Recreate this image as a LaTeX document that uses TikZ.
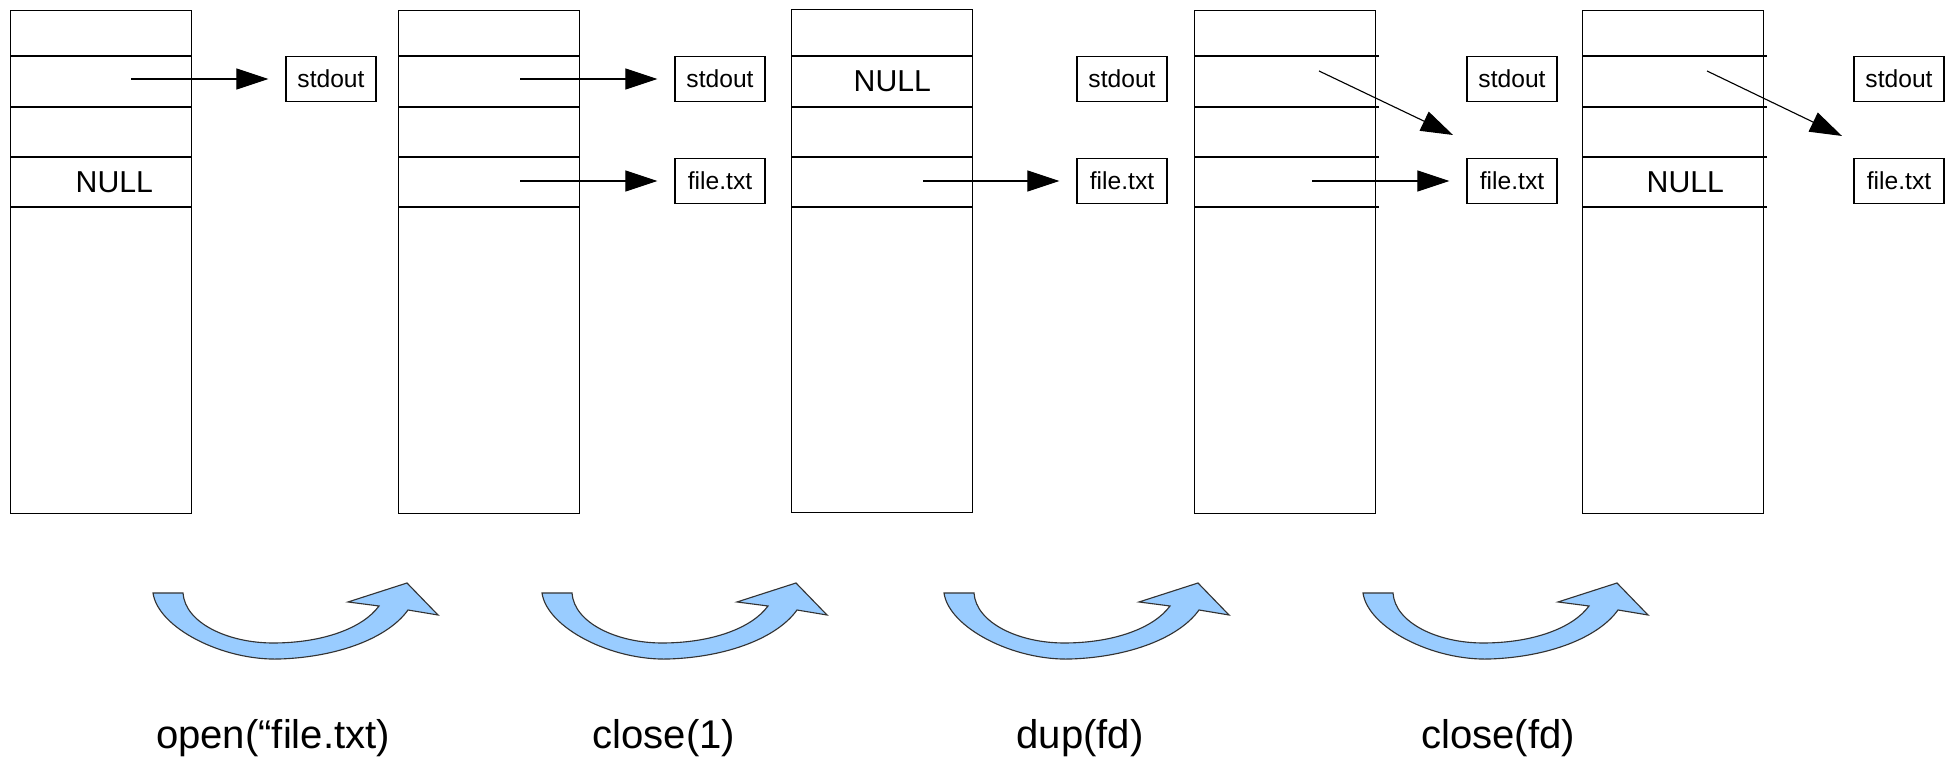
\documentclass[tikz,border=0pt]{standalone}
\usepackage{fontspec}
\setmainfont{Liberation Sans}
\usetikzlibrary{arrows.meta}

\definecolor{arrowblue}{HTML}{99CCFF}

\tikzset{
  fdtable/.style={draw, line width=0.32pt, minimum width=1.81cm, minimum height=5.03cm, inner sep=0pt, anchor=north west},
  filebox/.style={draw, line width=0.32pt, minimum width=0.9cm, minimum height=0.445cm, inner sep=0pt, font=\fontsize{7}{8}\selectfont},
  nulltext/.style={inner sep=0pt, anchor=west, font=\fontsize{8.6}{10}\selectfont},
  ptr/.style={-{Triangle[length=0.32cm,width=0.21cm]}, line width=0.32pt, shorten >=0.17cm},
  syscall/.style={anchor=base, font=\fontsize{11.4}{13}\selectfont},
  turn/.style={draw=black!80, fill=arrowblue, line width=0.32pt}
}

\begin{document}
\begin{tikzpicture}[x=0.01cm, y=-0.01cm]
	\useasboundingbox (0,0) rectangle (1957,765);

	% descriptor tables
	\node[fdtable] (t1) at (10,10) {};
	\node[fdtable] (t2) at (398,10) {};
	\node[fdtable] (t3) at (791,9) {};
	\node[fdtable] (t4) at (1194,10) {};
	\node[fdtable] (t5) at (1582,10) {};
	\foreach \t/\ext in {t1/0, t2/0, t3/0, t4/0.85, t5/0.85}
		\foreach \y in {56,107,157,207}
			\draw[line width=0.32pt] (\t.west |- 0,\y) -- ([xshift=\ext pt]\t.east |- 0,\y);

	\node[nulltext] (n1) at (75,182) {NULL};
	\node[nulltext] (n3) at (853,81) {NULL};
	\node[nulltext] (n5) at (1646,182) {NULL};

	% open files
	\node[filebox] (o1) at (331,79) {stdout};
	\node[filebox] (o2) at (720,79) {stdout};
	\node[filebox] (f2) at (720,181) {file.txt};
	\node[filebox] (o3) at (1122,79) {stdout};
	\node[filebox] (f3) at (1122,181) {file.txt};
	\node[filebox] (o4) at (1512,79) {stdout};
	\node[filebox] (f4) at (1512,181) {file.txt};
	\node[filebox] (o5) at (1899,79) {stdout};
	\node[filebox] (f5) at (1899,181) {file.txt};

	% pointers
	\coordinate (p1) at (131,79);
	\coordinate (p2a) at (520,79);
	\coordinate (p2b) at (520,181);
	\coordinate (p3) at (923,181);
	\coordinate (p4a) at (1319,71);
	\coordinate (p4b) at (1312,181);
	\coordinate (p5) at (1707,71);
	\coordinate (d4) at (1453,135);
	\coordinate (d5) at (1842,136);
	\draw[ptr] (p1) -- (o1);
	\draw[ptr] (p2a) -- (o2);
	\draw[ptr] (p2b) -- (f2);
	\draw[ptr] (p3) -- (f3);
	\draw[ptr] (p4b) -- (f4);
	\draw[ptr, shorten >=0pt] (p4a) -- (d4);
	\draw[ptr, shorten >=0pt] (p5) -- (d5);

	% steps
	\foreach \x in {153,542,944,1363}
		\draw[turn, shift={(\x,593)}] (0,0) -- (30,0)
			.. controls (32,30) and (75,50) .. (120,50)
			.. controls (170,50) and (210,35) .. (226,13)
			-- (195,9) -- (254,-10) -- (285,22) -- (255,17)
			.. controls (235,45) and (185,64) .. (127,66)
			.. controls (70,68) and (5,35) .. (0,0) -- cycle;

	\node[syscall] (c1) at (273,749) {open(“file.txt)};
	\node[syscall] (c2) at (664,749) {close(1)};
	\node[syscall] (c3) at (1080,749) {dup(fd)};
	\node[syscall] (c4) at (1498,749) {close(fd)};
\end{tikzpicture}
\end{document}
